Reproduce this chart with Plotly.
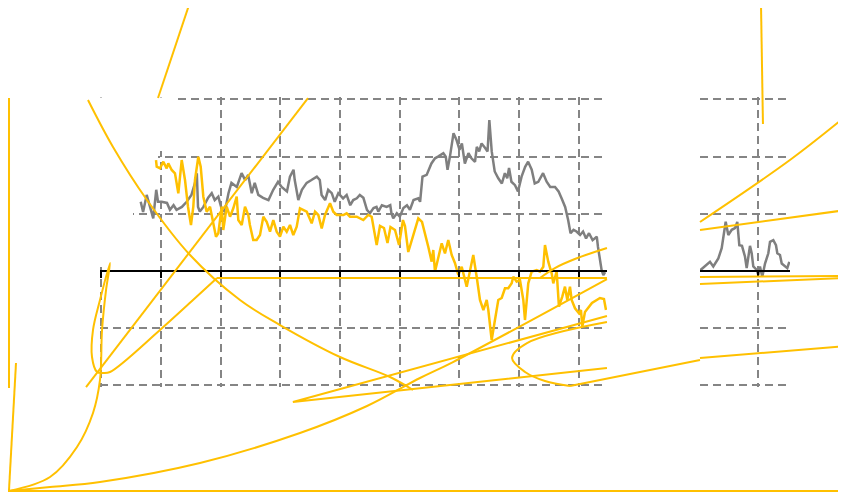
import plotly.graph_objects as go

# ---------------- main panel series (x = year, y = value) ----------------
gray_x = [2007.66, 2007.70, 2007.76, 2007.87, 2007.92, 2007.95, 2008.01, 2008.10, 2008.15, 2008.21,
          2008.26, 2008.35, 2008.43, 2008.51, 2008.57, 2008.60, 2008.62, 2008.65, 2008.71, 2008.79,
          2008.85, 2008.90, 2008.96, 2009.02, 2009.07, 2009.13, 2009.18, 2009.27, 2009.35, 2009.41,
          2009.46, 2009.52, 2009.57, 2009.63, 2009.71, 2009.80, 2009.88, 2009.96, 2010.02, 2010.11,
          2010.16, 2010.22, 2010.24, 2010.30, 2010.36, 2010.44, 2010.52, 2010.61, 2010.66, 2010.69,
          2010.75, 2010.80, 2010.86, 2010.91, 2010.97, 2011.05, 2011.11, 2011.17, 2011.22, 2011.28,
          2011.33, 2011.39, 2011.45, 2011.50, 2011.56, 2011.61, 2011.64, 2011.70, 2011.78, 2011.84,
          2011.86, 2011.89, 2011.95, 2012.00, 2012.06, 2012.12, 2012.17, 2012.23, 2012.31, 2012.34,
          2012.38, 2012.45, 2012.53, 2012.59, 2012.64, 2012.73, 2012.77, 2012.80, 2012.84, 2012.90,
          2012.95, 2013.00, 2013.04, 2013.09, 2013.15, 2013.20, 2013.26, 2013.29, 2013.33, 2013.37,
          2013.43, 2013.47, 2013.50, 2013.54, 2013.59, 2013.65, 2013.71, 2013.76, 2013.80, 2013.83,
          2013.87, 2013.93, 2013.98, 2014.04, 2014.10, 2014.15, 2014.21, 2014.26, 2014.32, 2014.40,
          2014.46, 2014.52, 2014.60, 2014.66, 2014.71, 2014.77, 2014.82, 2014.86, 2014.91, 2014.96,
          2015.02, 2015.07, 2015.12, 2015.17, 2015.23, 2015.30, 2015.32, 2015.38, 2015.41, 2015.44]
gray_y = [1.21, 1.03, 1.33, 0.92, 1.42, 1.21, 1.21, 1.19, 1.07, 1.15,
          1.07, 1.12, 1.21, 1.33, 1.54, 1.71, 1.12, 1.04, 1.12, 1.28,
          1.36, 1.24, 1.30, 1.07, 1.04, 1.36, 1.54, 1.47, 1.71, 1.59,
          1.68, 1.36, 1.54, 1.33, 1.28, 1.24, 1.42, 1.56, 1.47, 1.39,
          1.65, 1.77, 1.59, 1.24, 1.42, 1.54, 1.59, 1.65, 1.59, 1.33,
          1.24, 1.42, 1.36, 1.21, 1.36, 1.27, 1.33, 1.15, 1.24, 1.27,
          1.33, 1.28, 1.07, 1.01, 1.10, 1.12, 1.04, 1.15, 1.12, 1.15,
          1.01, 0.92, 1.01, 0.95, 1.10, 1.15, 1.07, 1.24, 1.27, 1.21,
          1.65, 1.68, 1.88, 1.97, 2.00, 2.06, 2.00, 1.77, 2.00, 2.41,
          2.29, 2.12, 2.23, 1.88, 2.06, 1.97, 1.91, 2.17, 2.09, 2.23,
          2.15, 2.09, 2.64, 2.09, 1.74, 1.62, 1.53, 1.71, 1.62, 1.80,
          1.56, 1.50, 1.39, 1.65, 1.82, 1.91, 1.77, 1.53, 1.56, 1.71,
          1.56, 1.47, 1.47, 1.39, 1.27, 1.12, 0.89, 0.66, 0.72, 0.69,
          0.63, 0.69, 0.57, 0.66, 0.54, 0.60, 0.42, 0.02, -0.07, -0.02]

yellow_x = [2007.916, 2007.928, 2007.983, 2008.039, 2008.095, 2008.122, 2008.179, 2008.234, 2008.290, 2008.347,
            2008.402, 2008.452, 2008.502, 2008.541, 2008.569, 2008.625, 2008.665, 2008.709, 2008.765, 2008.821,
            2008.876, 2008.921, 2008.960, 2009.017, 2009.043, 2009.100, 2009.156, 2009.211, 2009.268, 2009.295,
            2009.352, 2009.407, 2009.462, 2009.489, 2009.545, 2009.602, 2009.658, 2009.714, 2009.770, 2009.826,
            2009.881, 2009.938, 2009.993, 2010.049, 2010.106, 2010.161, 2010.216, 2010.273, 2010.328, 2010.384,
            2010.441, 2010.524, 2010.580, 2010.635, 2010.692, 2010.747, 2010.831, 2010.886, 2010.943, 2011.054,
            2011.110, 2011.166, 2011.278, 2011.389, 2011.472, 2011.529, 2011.613, 2011.668, 2011.735, 2011.794,
            2011.844, 2011.920, 2011.987, 2012.053, 2012.087, 2012.142, 2012.204, 2012.283, 2012.310, 2012.372,
            2012.422, 2012.477, 2012.534, 2012.561, 2012.589, 2012.645, 2012.702, 2012.757, 2012.812, 2012.869,
            2012.925, 2012.980, 2013.037, 2013.121, 2013.176, 2013.231, 2013.288, 2013.343, 2013.400, 2013.456,
            2013.483, 2013.539, 2013.594, 2013.650, 2013.707, 2013.762, 2013.817, 2013.874, 2013.901, 2013.958,
            2014.013, 2014.069, 2014.097, 2014.152, 2014.209, 2014.293, 2014.348, 2014.404, 2014.432, 2014.487,
            2014.544, 2014.571, 2014.628, 2014.666, 2014.722, 2014.767, 2014.806, 2014.851, 2014.879, 2014.935,
            2015.002, 2015.035, 2015.057, 2015.102, 2015.219, 2015.353, 2015.420, 2015.454]
yellow_y = [1.940, 1.823, 1.795, 1.911, 1.795, 1.883, 1.766, 1.708, 1.358, 1.940,
            1.591, 1.124, 0.804, 1.124, 1.591, 1.998, 1.823, 1.299, 1.037, 1.124,
            0.834, 0.600, 0.659, 1.124, 0.717, 1.124, 0.949, 1.096, 1.299, 0.891,
            0.804, 1.124, 0.979, 0.804, 0.542, 0.542, 0.629, 0.949, 0.862, 0.687,
            0.891, 0.687, 0.600, 0.774, 0.687, 0.804, 0.629, 0.774, 1.096, 1.066,
            1.037, 0.834, 1.037, 0.979, 0.746, 0.979, 1.183, 1.037, 0.979, 0.979,
            1.009, 0.949, 0.949, 0.891, 0.979, 0.949, 0.454, 0.787, 0.752, 0.489,
            0.769, 0.717, 0.454, 0.891, 0.787, 0.332, 0.542, 0.804, 0.921, 0.857,
            0.659, 0.425, 0.163, 0.367, -0.012, 0.222, 0.484, 0.309, 0.542, 0.280,
            0.135, -0.070, 0.075, -0.274, 0.017, 0.280, -0.100, -0.507, -0.682, -0.507,
            -0.682, -1.206, -0.857, -0.507, -0.472, -0.302, -0.302, -0.215, -0.100, -0.187,
            -0.157, -0.507, -0.857, -0.215, -0.012, 0.017, -0.012, 0.075, 0.454, 0.163,
            -0.040, -0.215, -0.012, -0.624, -0.449, -0.274, -0.507, -0.274, -0.507, -0.652,
            -0.739, -0.682, -0.974, -0.717, -0.559, -0.472, -0.489, -0.682]

main_ticks = [2007, 2008, 2009, 2010, 2011, 2012, 2013, 2014, 2015]
value_ticks = [-2, -1, 1, 2, 3]

# ---------------- side panel series ----------------
side_x = [0.000, 0.172, 0.229, 0.316, 0.374, 0.414, 0.443, 0.488, 0.547, 0.603,
          0.643, 0.678, 0.724, 0.776, 0.805, 0.862, 0.891, 0.919, 0.978, 1.005,
          1.034, 1.074, 1.121, 1.178, 1.207, 1.264, 1.310, 1.333, 1.379, 1.409,
          1.466, 1.505, 1.540]
side_y = [0.01, 0.16, 0.08, 0.22, 0.40, 0.66, 0.86, 0.63, 0.72, 0.75,
          0.86, 0.45, 0.44, 0.25, 0.05, 0.44, 0.31, 0.08, 0.02, -0.07,
          0.08, -0.10, 0.13, 0.31, 0.51, 0.54, 0.45, 0.31, 0.28, 0.13,
          0.08, 0.05, 0.16]
side_ticks = [1]

# ---------------- overflow strokes (same year/value units, page-wide overlay) ----------------
s1_x = [2008.486, 2007.950]; s1_y = [4.703, 3.024]
s2_x = [2005.454, 2005.454]; s2_y = [3.024, -2.045]
s3_x = [2005.571, 2005.454]; s3_y = [-1.608, -3.828]
s4_x = [2005.454, 2006.141, 2006.593, 2006.861, 2006.978, 2007.012, 2007.079, 2007.146,
        2006.978, 2006.861, 2006.844, 2006.928, 2007.028, 2007.146, 2007.983, 2008.536, 2008.938]
s4_y = [-3.846, -3.601, -3.077, -2.482, -1.905, -1.031, -0.332, 0.140,
        -0.507, -1.031, -1.503, -1.765, -1.783, -1.765, -1.031, -0.507, -0.122]
s5_x = [2008.938, 2015.470, None, 2017.028, 2019.474]; s5_y = [-0.122, -0.122, None, -0.105, -0.087]
s6_x = [2006.744, 2010.462]; s6_y = [-2.028, 3.024]
s7_x = [2006.777, 2007.196, 2007.765, 2008.486, 2009.323, 2009.993, 2010.998, 2011.836, 2012.221]
s7_y = [2.989, 2.168, 1.241, 0.280, -0.507, -0.944, -1.503, -1.853, -2.080]
s8_x = [2005.454, 2006.141, 2006.978, 2008.653, 2010.328, 2011.451, 2012.338, 2012.891, 2015.470]
s8_y = [-3.846, -3.776, -3.688, -3.356, -2.832, -2.360, -1.870, -1.591, -0.140]
s8b_x = [2017.028, 2018.535, 2019.474]; s8b_y = [0.857, 1.940, 2.709]
s9_x = [2019.474, 2017.028, None, 2015.470, 2010.209, 2015.470]
s9_y = [-1.311, -1.521, None, -1.696, -2.290, -0.787]
s10_x = [2015.470, 2014.131, 2013.880, 2014.098, 2014.432, 2014.851]
s10_y = [-0.891, -1.259, -1.521, -1.765, -1.923, -2.010]
s10b_x = [2014.851, 2017.028]; s10b_y = [-2.010, -1.556]
s11_x = [2014.347, 2014.598, 2014.933, 2015.470]; s11_y = [-0.122, 0.052, 0.210, 0.402]
s11b_x = [2017.028, 2019.474]; s11b_y = [0.717, 1.066]
s12_x = [2017.028, 2019.474]; s12_y = [-0.227, -0.122]
s13_x = [2018.050, 2018.083]; s13_y = [4.667, 2.570]
s14_x = [2005.437, 2019.474]; s14_y = [-3.846, -3.846]

GRAY = "#7f7f7f"
GOLD = "#ffc000"
GRID = "#858585"
DASH = "8px,5px"

fig = go.Figure()

fig.add_trace(go.Scatter(x=gray_x, y=gray_y, mode="lines", line=dict(color=GRAY, width=2.5),
                         xaxis="x", yaxis="y", hoverinfo="skip"))
fig.add_trace(go.Scatter(x=yellow_x, y=yellow_y, mode="lines", line=dict(color=GOLD, width=2.5),
                         xaxis="x", yaxis="y", hoverinfo="skip"))
fig.add_trace(go.Scatter(x=side_x, y=side_y, mode="lines", line=dict(color=GRAY, width=2.5),
                         xaxis="x2", yaxis="y2", hoverinfo="skip"))

strokes = [
    (s1_x, s1_y, "linear"), (s2_x, s2_y, "linear"), (s3_x, s3_y, "linear"),
    (s4_x, s4_y, "spline"), (s5_x, s5_y, "linear"), (s6_x, s6_y, "linear"),
    (s7_x, s7_y, "spline"), (s8_x, s8_y, "spline"), (s8b_x, s8b_y, "spline"),
    (s9_x, s9_y, "linear"), (s10_x, s10_y, "spline"), (s10b_x, s10b_y, "linear"),
    (s11_x, s11_y, "spline"), (s11b_x, s11b_y, "linear"), (s12_x, s12_y, "linear"),
    (s13_x, s13_y, "linear"), (s14_x, s14_y, "linear"),
]
for sx, sy, shp in strokes:
    fig.add_trace(go.Scatter(x=sx, y=sy, mode="lines",
                             line=dict(color=GOLD, width=2, shape=shp, smoothing=1.0),
                             connectgaps=False, xaxis="x3", yaxis="y3", hoverinfo="skip"))

W, H = 846, 494
OFF = 8  # page body margin shifts the figure by 8px
PXV = 57.2  # px per value unit
zero_px = 271 - OFF
ylo, yhi = -2.035, 3.035
ydom = [1 - (zero_px - ylo * PXV) / H, 1 - (zero_px - yhi * PXV) / H]
axis_pos = 1 - zero_px / H

fig.update_layout(
    width=W, height=H,
    margin=dict(l=0, r=0, t=0, b=0),
    paper_bgcolor="white",
    plot_bgcolor="rgba(0,0,0,0)",
    showlegend=False,
    xaxis=dict(domain=[(100 - OFF) / W, (607 - OFF) / W], range=[2006.978, 2015.471], anchor="free",
               position=axis_pos, tickvals=main_ticks, showticklabels=False, ticks="outside", ticklen=6,
               tickwidth=2, tickcolor="black", showline=True, linecolor="black", linewidth=2,
               showgrid=True, gridcolor=GRID, gridwidth=2, griddash=DASH, zeroline=False),
    yaxis=dict(domain=ydom, range=[ylo, yhi], anchor="x", tickvals=value_ticks, showticklabels=False,
               showgrid=True, gridcolor=GRID, gridwidth=2, griddash=DASH, zeroline=False,
               showline=False, ticks=""),
    xaxis2=dict(domain=[(700 - OFF) / W, (790 - OFF) / W], range=[0, 1.5517], anchor="free",
                position=axis_pos, tickvals=side_ticks, showticklabels=False, ticks="outside", ticklen=5,
                tickwidth=2, tickcolor="black", showline=True, linecolor="black", linewidth=2,
                showgrid=True, gridcolor=GRID, gridwidth=2, griddash=DASH, zeroline=False),
    yaxis2=dict(domain=ydom, range=[ylo, yhi], anchor="x2", tickvals=value_ticks, showticklabels=False,
                showgrid=True, gridcolor=GRID, gridwidth=2, griddash=DASH, zeroline=False,
                showline=False, ticks=""),
    xaxis3=dict(domain=[0, 1], range=[2005.437, 2019.608], anchor="y3", visible=False),
    yaxis3=dict(domain=[0, 1], range=[-4.038, 4.598], anchor="x3", visible=False),
)

# staircase gap in the grid at the upper left of the main panel
fig.add_shape(type="path", xref="x", yref="y", layer="between",
              path="M 2006.945,3.10 L 2008.251,3.10 L 2008.251,2.098 L 2007.950,2.098 "
                   "L 2007.950,1.084 L 2007.531,1.084 L 2007.531,0.070 L 2006.945,0.070 Z",
              fillcolor="white", line=dict(width=0))

fig.write_html("out.html")
